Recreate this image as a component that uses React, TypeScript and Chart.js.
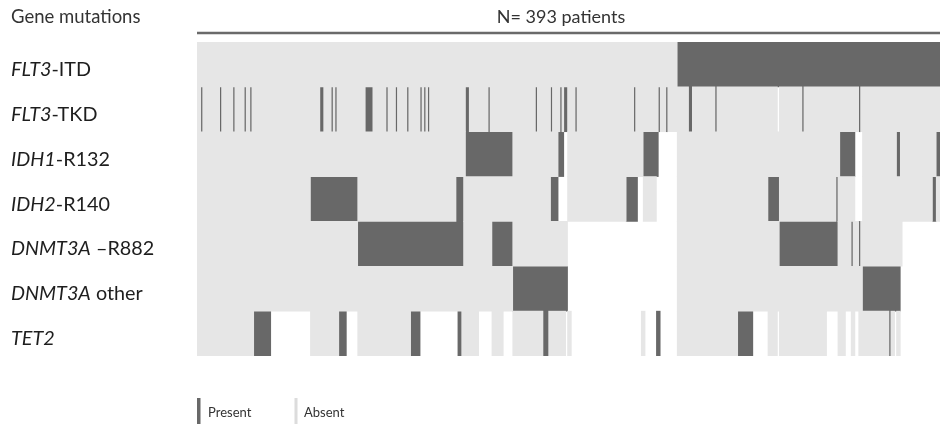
import React, { useEffect, useRef } from 'react';
import { Chart, registerables } from 'chart.js';

Chart.register(...registerables);

const PATIENTS = 393;
const geneItalic = ['FLT3', 'FLT3', 'IDH1', 'IDH2', 'DNMT3A', 'DNMT3A', 'TET2'];
const geneSuffix = ['-ITD', '-TKD', '-R132', '-R140', ' \u2013R882', ' other', ''];
const genes = geneItalic.map((g, i) => g + geneSuffix[i]);

// patient index ranges [first, last], inclusive
const flt3ItdPresent = [[254, 392]];
const flt3ItdMissing: number[][] = [];
const flt3TkdPresent = [[2, 2], [12, 12], [19, 19], [25, 25], [28, 28], [65, 66], [71, 71], [73, 73], [89, 92], [100, 100], [105, 105], [111, 111], [118, 118], [120, 120], [122, 122], [142, 143], [154, 154], [179, 179], [187, 187], [192, 192], [194, 195], [200, 200], [231, 231], [244, 244], [248, 248], [260, 261], [274, 274], [320, 320], [350, 350]];
const flt3TkdMissing = [[307, 307]];
const idh1Present = [[142, 166], [191, 193], [236, 243], [340, 347], [370, 371], [391, 392]];
const idh1Missing = [[194, 195], [244, 253], [348, 351]];
const idh2Present = [[60, 84], [137, 140], [187, 190], [227, 232], [302, 307], [338, 338], [389, 390]];
const idh2Missing = [[191, 195], [233, 235], [243, 253], [348, 351]];
const r882Present = [[85, 140], [156, 166], [308, 338], [346, 346], [350, 350]];
const r882Missing = [[196, 253], [373, 392]];
const dnmtOtherPresent = [[167, 195], [352, 371]];
const dnmtOtherMissing = [[196, 253], [372, 392]];
const tet2Present = [[30, 38], [75, 78], [113, 117], [138, 139], [183, 185], [243, 244], [286, 293], [366, 366]];
const tet2Missing = [[39, 59], [79, 84], [118, 137], [149, 155], [162, 166], [195, 195], [198, 234], [237, 242], [245, 253], [294, 301], [307, 307], [333, 338], [343, 345], [348, 349], [369, 369], [372, 392]];

const rowPresent = [flt3ItdPresent, flt3TkdPresent, idh1Present, idh2Present, r882Present, dnmtOtherPresent, tet2Present];
const rowMissing = [flt3ItdMissing, flt3TkdMissing, idh1Missing, idh2Missing, r882Missing, dnmtOtherMissing, tet2Missing];

const legendLabels = ['Present', 'Absent'];

const DARK = '#686868';
const LIGHT = '#e6e6e6';
const FONT = 'Lato, "Open Sans", sans-serif';

function buildRuns() {
  const present: any[] = [];
  const absent: any[] = [];
  rowPresent.forEach((pr, gi) => {
    const state = new Array(PATIENTS).fill(0);
    rowMissing[gi].forEach(([a, b]) => { for (let i = a; i <= b; i++) state[i] = 2; });
    pr.forEach(([a, b]) => { for (let i = a; i <= b; i++) state[i] = 1; });
    let s = 0;
    for (let i = 1; i <= PATIENTS; i++) {
      if (i === PATIENTS || state[i] !== state[s]) {
        const pt = { x: [s, i], y: genes[gi] };
        if (state[s] === 1) present.push(pt);
        else if (state[s] === 0) absent.push(pt);
        s = i;
      }
    }
  });
  return { present, absent };
}

const textPlugin = {
  id: 'oncoText',
  afterDraw(chart: any) {
    const { ctx, scales } = chart;
    ctx.save();
    ctx.textBaseline = 'alphabetic';
    ctx.fillStyle = '#333';
    ctx.font = `18.5px ${FONT}`;
    ctx.textAlign = 'left';
    ctx.fillText('Gene mutations', 11, 23);
    ctx.font = `18px ${FONT}`;
    ctx.textAlign = 'center';
    ctx.fillText(`N= ${PATIENTS} patients`, 561, 23);
    ctx.strokeStyle = '#6a6a6a';
    ctx.lineWidth = 2.6;
    ctx.beginPath();
    ctx.moveTo(197, 33);
    ctx.lineTo(940, 33);
    ctx.stroke();

    ctx.textAlign = 'left';
    ctx.fillStyle = '#1e1e1e';
    genes.forEach((g, i) => {
      const y = scales.y.getPixelForValue(i) + 11.5;
      ctx.font = `italic 19.8px ${FONT}`;
      ctx.fillText(geneItalic[i], 11, y);
      const w = ctx.measureText(geneItalic[i]).width;
      ctx.font = `19.8px ${FONT}`;
      ctx.fillText(geneSuffix[i], 11 + w, y);
    });

    ctx.fillStyle = DARK;
    ctx.fillRect(197, 398, 3.5, 26);
    ctx.fillStyle = '#dcdcdc';
    ctx.fillRect(294.5, 398, 3, 26);
    ctx.fillStyle = '#333';
    ctx.font = `13px ${FONT}`;
    ctx.fillText(legendLabels[0], 208, 417);
    ctx.fillText(legendLabels[1], 304, 417);
    ctx.restore();
  },
};

export default function App() {
  const ref = useRef<HTMLCanvasElement>(null);
  useEffect(() => {
    if (!ref.current) return;
    const { present, absent } = buildRuns();
    const chart = new Chart(ref.current, {
      type: 'bar',
      data: {
        labels: genes,
        datasets: [
          { label: 'Absent', data: absent as any, backgroundColor: LIGHT, borderWidth: 0 },
          { label: 'Present', data: present as any, backgroundColor: DARK, borderWidth: 0 },
        ],
      },
      options: {
        indexAxis: 'y',
        animation: false,
        responsive: false,
        events: [],
        layout: { padding: { left: 197, right: 0, top: 42, bottom: 68 } },
        scales: {
          x: { type: 'linear', min: 0, max: PATIENTS, display: false },
          y: { type: 'category', display: false, offset: true },
        },
        plugins: { legend: { display: false }, tooltip: { enabled: false } },
        datasets: { bar: { grouped: false, barPercentage: 1, categoryPercentage: 1 } },
      } as any,
      plugins: [textPlugin],
    });
    return () => chart.destroy();
  }, []);
  return (
    <div style={{ position: 'fixed', left: 0, top: 0, width: 940, height: 424, background: '#fff' }}>
      <canvas ref={ref} width={940} height={424} />
    </div>
  );
}
